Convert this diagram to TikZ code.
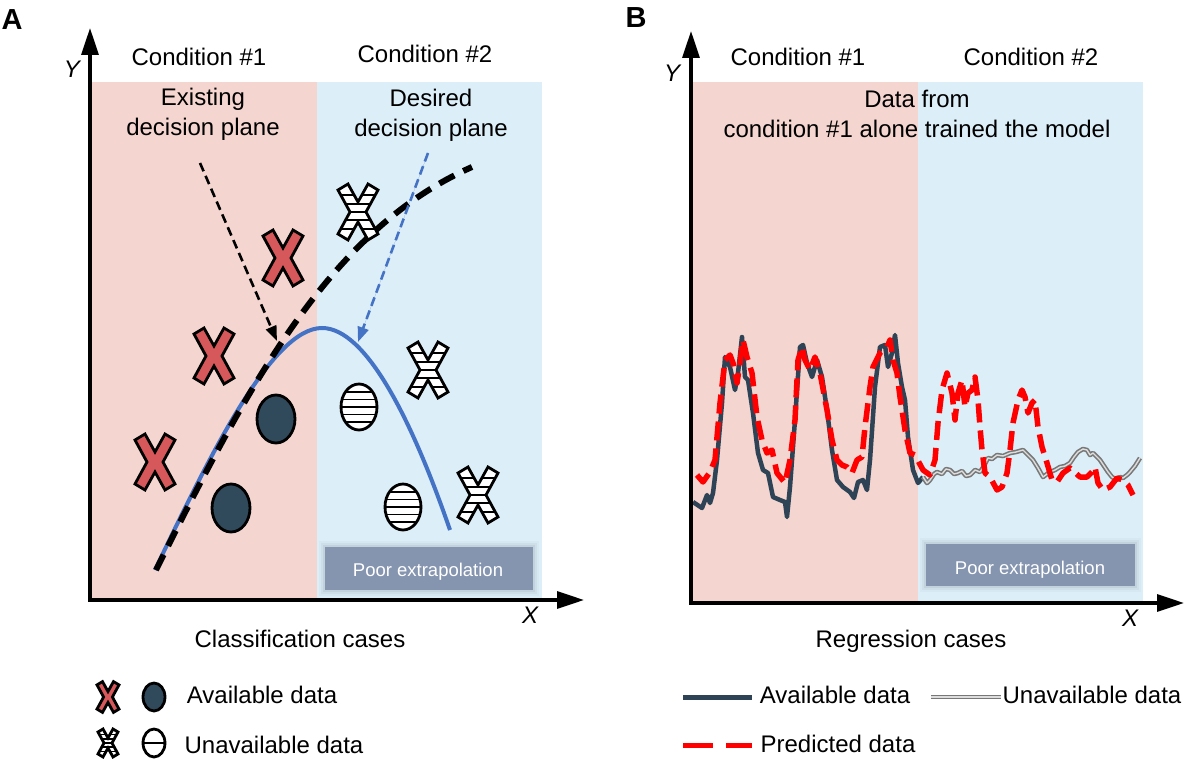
\documentclass[tikz,border=0pt]{standalone}
\usepackage{fontspec}
\setmainfont{Liberation Sans}
\usetikzlibrary{arrows.meta}
\definecolor{pinkbg}{RGB}{245,213,207}
\definecolor{bluebg}{RGB}{220,238,248}
\definecolor{curveblue}{RGB}{68,114,196}
\definecolor{xred}{RGB}{214,88,90}
\definecolor{darkdot}{RGB}{48,74,92}
\definecolor{darkline}{RGB}{46,68,86}
\definecolor{boxfill}{RGB}{133,148,175}
\definecolor{predred}{RGB}{255,0,0}
\definecolor{graycurve}{RGB}{120,120,120}
\tikzset{
  lbl/.style={font=\fontsize{24}{30}\selectfont, inner sep=0pt, anchor=base},
  lbltwo/.style={font=\fontsize{24}{30}\selectfont, inner sep=0pt, align=center},
  axislbl/.style={font=\fontsize{24}{28}\selectfont\itshape, inner sep=0pt, anchor=base},
  panellbl/.style={font=\fontsize{29}{32}\selectfont\bfseries, inner sep=0pt, anchor=base},
  boxlbl/.style={font=\fontsize{18.5}{22}\selectfont, text=white, inner sep=0pt, anchor=base},
  axisline/.style={line width=3.2pt, -{Triangle[length=27pt,width=17pt]}},
  darrow/.style={line width=2.6pt, dash pattern=on 9pt off 5pt, -{Triangle[length=15pt,width=11pt]}},
  darkcurve/.style={line width=4.5pt, draw=darkline, line join=round},
  predcurve/.style={line width=5.5pt, draw=predred, dash pattern=on 19pt off 8pt, line join=round},
  unavcurve/.style={line width=1.6pt, draw=graycurve, double=white!75!graycurve, double distance=1.4pt, line join=round},
  redx/.pic={
    \filldraw[fill=xred, draw=black, line width=2.8pt, line join=miter]
      (-20,-22) -- (-10,-28) -- (0,-10) -- (10,-28) -- (20,-22) -- (8,0) -- (20,22) -- (10,28) -- (0,10) -- (-10,28) -- (-20,22) -- (-8,0) -- cycle;
  },
  stripx/.pic={
    \fill[white] (-20,-22) -- (-10,-28) -- (0,-10) -- (10,-28) -- (20,-22) -- (8,0) -- (20,22) -- (10,28) -- (0,10) -- (-10,28) -- (-20,22) -- (-8,0) -- cycle;
    \begin{scope}
      \clip (-20,-22) -- (-10,-28) -- (0,-10) -- (10,-28) -- (20,-22) -- (8,0) -- (20,22) -- (10,28) -- (0,10) -- (-10,28) -- (-20,22) -- (-8,0) -- cycle;
      \foreach \yy in {-17,-8,0,8,17} { \draw[line width=1.8pt] (-25,\yy) -- (25,\yy); }
    \end{scope}
    \draw[line width=2.8pt, line join=miter]
      (-20,-22) -- (-10,-28) -- (0,-10) -- (10,-28) -- (20,-22) -- (8,0) -- (20,22) -- (10,28) -- (0,10) -- (-10,28) -- (-20,22) -- (-8,0) -- cycle;
  },
  stripo/.pic={
    \fill[white] (0,0) ellipse [x radius=18, y radius=23];
    \begin{scope}
      \clip (0,0) ellipse [x radius=18, y radius=23];
      \foreach \yy in {-15,-7.5,0,7.5,15} { \draw[line width=1.6pt] (-25,\yy) -- (25,\yy); }
    \end{scope}
    \draw[line width=2.8pt] (0,0) ellipse [x radius=18, y radius=23];
  },
}
\begin{document}
\begin{tikzpicture}[x=1pt,y=-1pt]
\useasboundingbox[fill=white] (0,0) rectangle (1200,762);

% ================= Panel A =================
\fill[pinkbg] (92,82) rectangle (317,600);
\fill[bluebg] (317,82) rectangle (542,600);

% poor extrapolation box A
\foreach \e/\o in {6/0.025,4/0.035,2/0.05} {
  \fill[black, opacity=\o] (325-\e,547-\e) rectangle (533+\e,590+\e);
}
\node[draw=none, fill=boxfill, minimum width=208pt, minimum height=43pt, inner sep=0pt] (boxA) at (429,568.5) {};
\node[boxlbl] (poorA) at (428,576) {Poor extrapolation};

% curves
\draw[line width=4pt, curveblue] (155,570) .. controls (210,455) and (272,328) .. (322,328)
  .. controls (366,328) and (412,420) .. (450,530);
\draw[line width=6pt, black, dash pattern=on 17pt off 10pt] (156,570) .. controls (250,382) and (330,230) .. (472,167);

% data markers
\pic at (283,258) {redx};
\pic at (214,356) {redx};
\pic at (155,462) {redx};
\filldraw[fill=darkdot, line width=2.8pt] (276,419) ellipse [x radius=19, y radius=24];
\filldraw[fill=darkdot, line width=2.8pt] (231,508) ellipse [x radius=19, y radius=24];
\pic at (358,212) {stripx};
\pic at (428,370) {stripx};
\pic at (478,495) {stripx};
\pic at (359,407) {stripo};
\pic at (403,507) {stripo};

% labels
\node[panellbl] (labA) at (12,30) {A};
\node[lbl] (condA1) at (199,66) {Condition \#1};
\node[lbl] (condA2) at (425,63) {Condition \#2};
\node[lbltwo] (exist) at (203,114) {Existing\\decision plane};
\node[lbltwo] (desired) at (431,115) {Desired\\decision plane};

% pointer arrows
\coordinate (exS) at (200,163);
\coordinate (exT) at (277,341);
\coordinate (deS) at (428,153);
\coordinate (deT) at (358,342);
\draw[darrow, black] (exS) -- (exT);
\draw[darrow, curveblue, draw=curveblue, fill=curveblue] (deS) -- (deT);

% axes A
\coordinate (oA) at (90,600);
\coordinate (yA) at (90,28);
\coordinate (xA) at (584,600);
\draw[axisline] ([yshift=-1.6pt]oA) -- (yA);
\draw[axisline] ([xshift=-1.6pt]oA) -- (xA);
\node[axislbl] (YA) at (72,78) {Y};
\node[axislbl] (XA) at (530,623) {X};
\node[lbl] (clsA) at (300,647) {Classification cases};

% legend A
\pic[scale=0.55] at (108,697) {redx};
\filldraw[fill=darkdot, line width=2.8pt] (154,697) ellipse [x radius=11, y radius=14];
\node[lbl] (avA) at (262,703) {Available data};
\pic[scale=0.5] at (108,743) {stripx};
\fill[white] (154,743) ellipse [x radius=11, y radius=14];
\draw[line width=1.8pt] (143,743) -- (165,743);
\draw[line width=2.8pt] (154,743) ellipse [x radius=11, y radius=14];
\node[lbl] (unA) at (274,753) {Unavailable data};

% ================= Panel B =================
\fill[pinkbg] (693,82) rectangle (918,603);
\fill[bluebg] (918,82) rectangle (1143,603);

\foreach \e/\o in {6/0.025,4/0.035,2/0.05} {
  \fill[black, opacity=\o] (926-\e,544-\e) rectangle (1135+\e,586+\e);
}
\node[draw=none, fill=boxfill, minimum width=209pt, minimum height=42pt, inner sep=0pt] (boxB) at (1030.5,565) {};
\node[boxlbl] (poorB) at (1030,574) {Poor extrapolation};

% curves B
\draw[darkcurve] plot coordinates {(693,502) (702,508) (707,495) (710,503) (713,493) (717,460) (722,403) (725,357) (730,367) (735,390) (738,373) (742,337) (745,377) (748,380) (753,413) (758,453) (763,470) (768,473) (773,497) (780,500) (785,502) (787,517) (790,487) (795,420) (800,347) (803,345) (807,363) (812,377) (817,360) (822,377) (827,410) (832,450) (837,480) (843,487) (850,492) (854,498) (858,482) (863,480) (867,490) (870,460) (875,387) (880,347) (885,345) (888,367) (892,353) (895,335) (898,363) (902,387) (905,400) (908,437) (913,470) (918,483) (923,477)};
\draw[unavcurve] plot coordinates {(923,477) (927,483) (930,480) (934,474) (937,472) (942,474) (946,469) (950,470) (954,474) (958,473) (962,471) (966,476) (970,475) (975,470) (980,472) (984,466) (988,458) (992,459) (997,455) (1003,456) (1010,453) (1016,452) (1023,450) (1028,455) (1033,460) (1038,468) (1043,477) (1047,474) (1050,472) (1055,470) (1060,467) (1065,466) (1070,463) (1074,457) (1078,452) (1083,449) (1087,450) (1090,455) (1093,453) (1097,457) (1100,460) (1104,466) (1108,472) (1112,477) (1117,480) (1120,477) (1123,478) (1127,475) (1130,472) (1135,466) (1140,458)};
\draw[predcurve] plot coordinates {(697,475) (703,482) (710,472) (715,460) (720,403) (725,360) (730,355) (733,363) (737,383) (740,363) (743,340) (747,357) (752,373) (757,417) (762,440) (767,453) (772,450) (777,473) (785,483) (790,460) (795,420) (798,360) (802,347) (805,360) (810,370) (815,357) (820,373) (827,410) (832,440) (837,460) (842,465) (847,467) (852,473) (857,460) (862,457) (865,427) (870,387) (873,367) (880,353) (887,347) (890,340) (893,360) (897,373) (900,397) (905,430) (910,453) (915,455) (923,470) (930,475) (935,460) (938,423) (942,390) (947,373) (952,393) (955,420) (958,393) (962,380) (965,407) (968,393) (972,390) (975,377) (978,400) (980,427) (982,450) (985,473) (990,477) (997,490) (1002,487) (1007,473) (1010,450) (1013,423) (1018,400) (1022,390) (1025,397) (1028,413) (1032,403) (1035,400) (1038,427) (1042,447) (1047,463) (1052,480) (1057,482) (1063,473) (1070,468) (1080,477) (1087,477) (1092,472) (1095,467) (1098,483) (1103,490) (1110,487) (1117,478) (1123,480) (1128,485) (1133,495)};

% labels B
\node[panellbl] (labB) at (636,28) {B};
\node[lbl] (condB1) at (798,66) {Condition \#1};
\node[lbl] (condB2) at (1031,66) {Condition \#2};
\node[lbltwo] (datafrom) at (917,114) {Data from\\condition \#1 alone trained the model};

% axes B
\coordinate (oB) at (691,603);
\coordinate (yB) at (691,31);
\coordinate (xB) at (1184,603);
\draw[axisline] ([yshift=-1.6pt]oB) -- (yB);
\draw[axisline] ([xshift=-1.6pt]oB) -- (xB);
\node[axislbl] (YB) at (672,82) {Y};
\node[axislbl] (XB) at (1130,626) {X};
\node[lbl] (regB) at (911,647) {Regression cases};

% legend B
\coordinate (lav1) at (683,697);
\coordinate (lav2) at (752,697);
\draw[line width=5pt, draw=darkline] (lav1) -- (lav2);
\node[lbl] (avB) at (835,703) {Available data};
\coordinate (lun1) at (931,697);
\coordinate (lun2) at (1001,697);
\draw[unavcurve] (lun1) -- (lun2);
\node[lbl] (unB) at (1092,703) {Unavailable data};
\coordinate (lpr1) at (683,745);
\coordinate (lpr2) at (752,745);
\draw[line width=5pt, draw=predred, dash pattern=on 30pt off 13pt] (lpr1) -- (lpr2);
\node[lbl] (prB) at (838,752) {Predicted data};
\end{tikzpicture}
\end{document}
